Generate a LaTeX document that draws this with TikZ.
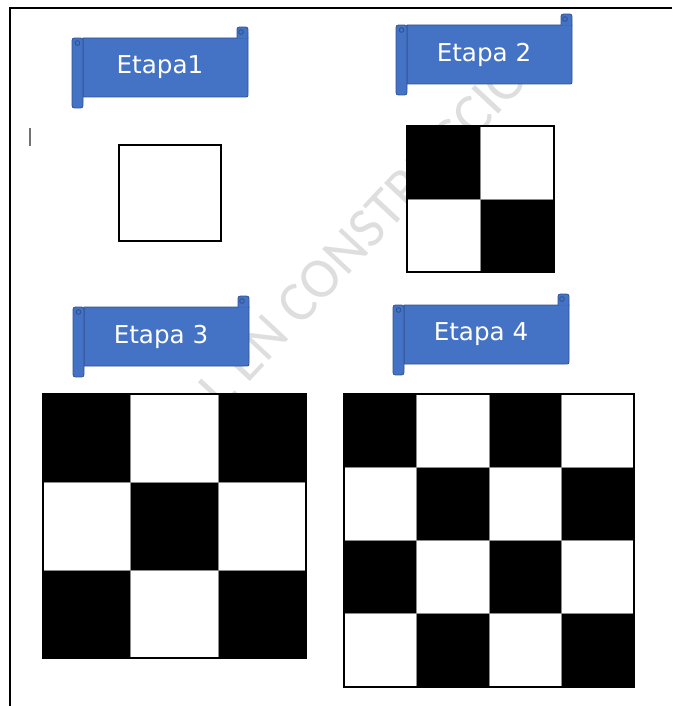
\documentclass[tikz,border=0pt]{standalone}
\usepackage{fontspec}
\newfontfamily\etiquetafont{DejaVu Sans}
\newfontfamily\marcafont{Carlito}
\usepackage{xcolor}
\usepackage{tikz}
\usetikzlibrary{calc}
\definecolor{azul}{HTML}{4472C4}
\definecolor{azulosc}{HTML}{2F528F}

% pergamino: #1 izquierda, #2 arriba, #3 nombre, #4 texto
\newcommand{\pergamino}[4]{%
  \filldraw[rollo] (#1+11,#2+11) -- (#1+176,#2+11) -- (#1+176,#2+66)
    .. controls (#1+176,#2+70) .. (#1+172,#2+70) -- (#1+11,#2+70) -- cycle;
  \filldraw[rollo] (#1+165,#2+11.5) -- (#1+165,#2+5) .. controls (#1+165,#2) .. (#1+170.5,#2)
    .. controls (#1+176,#2) .. (#1+176,#2+5) -- (#1+176,#2+11.5);
  \draw[rollo, fill=none] (#1+169,#2+5) circle[radius=2pt];
  \filldraw[rollo] (#1,#2+16.5) .. controls (#1,#2+11) .. (#1+5.5,#2+11)
    .. controls (#1+11,#2+11) .. (#1+11,#2+16.5) -- (#1+11,#2+75.5)
    .. controls (#1+11,#2+81) .. (#1+5.5,#2+81) .. controls (#1,#2+81) .. (#1,#2+75.5) -- cycle;
  \draw[rollo, fill=none] (#1+5.5,#2+16) circle[radius=2pt];
  \node[etiqueta] (#3) at (#1+88,#2+40.5) {#4};
}

% tablero: #1 x, #2 y, #3 ancho, #4 alto, #5 casillas
\newcommand{\tablero}[5]{%
  \foreach \c in {1,...,#5}{
    \foreach \r in {1,...,#5}{
      \pgfmathtruncatemacro{\parity}{mod(\c+\r,2)}
      \ifnum\parity=0 \def\celda{black}\else\def\celda{white}\fi
      \filldraw[fill=\celda, draw=black!45, line width=0.5pt]
        ({#1+(\c-1)*#3/#5},{#2+(\r-1)*#4/#5}) rectangle ++({#3/#5},{#4/#5});
    }
  }
  \draw[line width=1.2pt] (#1,#2) rectangle ++(#3,#4);
}

\begin{document}
\begin{tikzpicture}[
    x=0.03cm, y=-0.03cm,
    rollo/.style={
        fill=azul,
        draw=azulosc,
        line width=0.7pt
    },
    etiqueta/.style={
        text=white,
        inner sep=0pt,
        font=\etiquetafont\fontsize{21}{25}\selectfont
    },
    marca/.style={
        text=black!13,
        inner sep=0pt,
        font=\marcafont\fontsize{48.7}{58}\selectfont
    }
]
\useasboundingbox (0,0) rectangle (672,706);

% Marca de agua
\node[marca, rotate=47] (marca) at (300,293) {MATERIAL EN CONSTRUCCIÓN};

% Marco de la hoja
\draw[line width=1.3pt] (672,8) -- (10,8) -- (10,706);
\draw[black!55, line width=1.2pt] (30,128) -- (30,146);

% Titulos
\pergamino{72}{27}{etapa1}{Etapa1}
\pergamino{396}{14}{etapa2}{Etapa 2}
\pergamino{73}{296}{etapa3}{Etapa 3}
\pergamino{393}{294}{etapa4}{Etapa 4}

% Figuras
\draw[line width=1.3pt, fill=white] (119,145) rectangle (221,241);
\tablero{407}{126}{147}{146}{2}
\tablero{43}{394}{263}{264}{3}
\tablero{344}{394}{290}{293}{4}

\end{tikzpicture}
\end{document}
